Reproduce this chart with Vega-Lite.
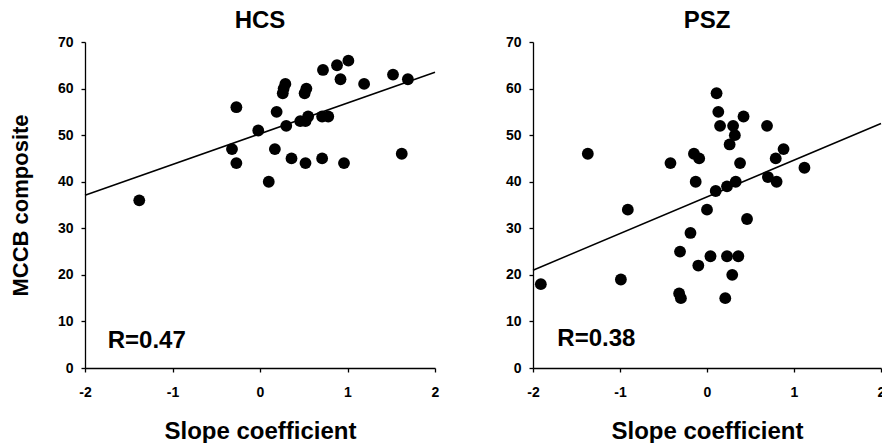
{
  "$schema": "https://vega.github.io/schema/vega-lite/v6.json",
  "padding": {"left": 9, "top": 9, "right": 0, "bottom": 0},
  "bounds": "flush",
  "spacing": 98,
  "background": "white",
  "config": {
    "view": {"stroke": null},
    "font": "Liberation Sans",
    "axis": {
      "grid": false,
      "domainColor": "black",
      "tickColor": "black",
      "labelColor": "black",
      "titleColor": "black",
      "labelFont": "Liberation Sans",
      "titleFont": "Liberation Sans",
      "labelFontWeight": "bold",
      "labelFontSize": 14,
      "titleFontSize": 24,
      "titleFontWeight": "bold",
      "tickSize": 4,
      "domainWidth": 1.3,
      "tickWidth": 1.3,
      "labelFlush": false,
      "labelOverlap": false,
      "labelExpr": "'' + datum.value"
    },
    "title": {"fontSize": 24, "fontWeight": "bold", "color": "black", "font": "Liberation Sans", "frame": "group", "baseline": "alphabetic", "offset": 2}
  },
  "datasets": {
    "hcs": [
      {"x": -1.38, "y": 36}, {"x": -0.27, "y": 56}, {"x": -0.32, "y": 47}, {"x": -0.27, "y": 44},
      {"x": -0.02, "y": 51}, {"x": 0.1, "y": 40}, {"x": 0.17, "y": 47}, {"x": 0.19, "y": 55},
      {"x": 0.26, "y": 59}, {"x": 0.27, "y": 60}, {"x": 0.29, "y": 61}, {"x": 0.3, "y": 52},
      {"x": 0.36, "y": 45}, {"x": 0.46, "y": 53}, {"x": 0.51, "y": 59}, {"x": 0.53, "y": 60},
      {"x": 0.52, "y": 53}, {"x": 0.55, "y": 54}, {"x": 0.52, "y": 44}, {"x": 0.72, "y": 64},
      {"x": 0.71, "y": 54}, {"x": 0.78, "y": 54}, {"x": 0.71, "y": 45}, {"x": 0.88, "y": 65},
      {"x": 0.92, "y": 62}, {"x": 1.01, "y": 66}, {"x": 0.96, "y": 44}, {"x": 1.19, "y": 61},
      {"x": 1.52, "y": 63}, {"x": 1.62, "y": 46}, {"x": 1.69, "y": 62}
    ],
    "psz": [
      {"x": -1.91, "y": 18}, {"x": -1.37, "y": 46}, {"x": -0.99, "y": 19}, {"x": -0.91, "y": 34},
      {"x": -0.42, "y": 44}, {"x": -0.31, "y": 25}, {"x": -0.32, "y": 16}, {"x": -0.3, "y": 15},
      {"x": -0.19, "y": 29}, {"x": -0.15, "y": 46}, {"x": -0.09, "y": 45}, {"x": -0.13, "y": 40},
      {"x": -0.1, "y": 22}, {"x": 0.0, "y": 34}, {"x": 0.04, "y": 24}, {"x": 0.1, "y": 38},
      {"x": 0.11, "y": 59}, {"x": 0.13, "y": 55}, {"x": 0.15, "y": 52}, {"x": 0.23, "y": 39},
      {"x": 0.23, "y": 24}, {"x": 0.21, "y": 15}, {"x": 0.26, "y": 48}, {"x": 0.3, "y": 52},
      {"x": 0.32, "y": 50}, {"x": 0.33, "y": 40}, {"x": 0.29, "y": 20}, {"x": 0.36, "y": 24},
      {"x": 0.38, "y": 44}, {"x": 0.42, "y": 54}, {"x": 0.46, "y": 32}, {"x": 0.69, "y": 52},
      {"x": 0.7, "y": 41}, {"x": 0.79, "y": 45}, {"x": 0.8, "y": 40}, {"x": 0.88, "y": 47},
      {"x": 1.12, "y": 43}
    ],
    "hcsFit": [{"x": -2, "y": 37.1}, {"x": 2, "y": 63.5}],
    "pszFit": [{"x": -2, "y": 21.0}, {"x": 2, "y": 52.5}],
    "hcsLabel": [{"x": -1.74, "y": 4.4, "label": "R=0.47"}],
    "pszLabel": [{"x": -1.72, "y": 4.8, "label": "R=0.38"}]
  },
  "hconcat": [
    {
      "width": 350,
      "height": 326,
      "title": "HCS",
      "encoding": {
        "x": {"field": "x", "type": "quantitative", "scale": {"domain": [-2, 2], "nice": false},
              "axis": {"title": "Slope coefficient", "values": [-2, -1, 0, 1, 2], "labelPadding": 13, "titleBaseline": "alphabetic", "titleY": 70}},
        "y": {"field": "y", "type": "quantitative", "scale": {"domain": [0, 70], "nice": false},
              "axis": {"title": "MCCB composite", "values": [0, 10, 20, 30, 40, 50, 60, 70], "labelPadding": 8, "titleBaseline": "alphabetic", "titleX": -58, "titleFontSize": 22}}
      },
      "layer": [
        {"data": {"name": "hcsFit"}, "mark": {"type": "line", "color": "black", "strokeWidth": 1.5}},
        {"data": {"name": "hcs"}, "mark": {"type": "circle", "size": 140, "color": "black", "opacity": 1}},
        {"data": {"name": "hcsLabel"}, "mark": {"type": "text", "align": "left", "baseline": "alphabetic", "fontSize": 24, "fontWeight": "bold", "font": "Liberation Sans", "color": "black"},
         "encoding": {"text": {"field": "label", "type": "nominal"}}}
      ]
    },
    {
      "width": 348,
      "height": 326,
      "title": "PSZ",
      "encoding": {
        "x": {"field": "x", "type": "quantitative", "scale": {"domain": [-2, 2], "nice": false},
              "axis": {"title": "Slope coefficient", "values": [-2, -1, 0, 1, 2], "labelPadding": 13, "titleBaseline": "alphabetic", "titleY": 70}},
        "y": {"field": "y", "type": "quantitative", "scale": {"domain": [0, 70], "nice": false},
              "axis": {"title": null, "values": [0, 10, 20, 30, 40, 50, 60, 70], "labelPadding": 8}}
      },
      "layer": [
        {"data": {"name": "pszFit"}, "mark": {"type": "line", "color": "black", "strokeWidth": 1.5}},
        {"data": {"name": "psz"}, "mark": {"type": "circle", "size": 140, "color": "black", "opacity": 1}},
        {"data": {"name": "pszLabel"}, "mark": {"type": "text", "align": "left", "baseline": "alphabetic", "fontSize": 24, "fontWeight": "bold", "font": "Liberation Sans", "color": "black"},
         "encoding": {"text": {"field": "label", "type": "nominal"}}}
      ]
    }
  ]
}
